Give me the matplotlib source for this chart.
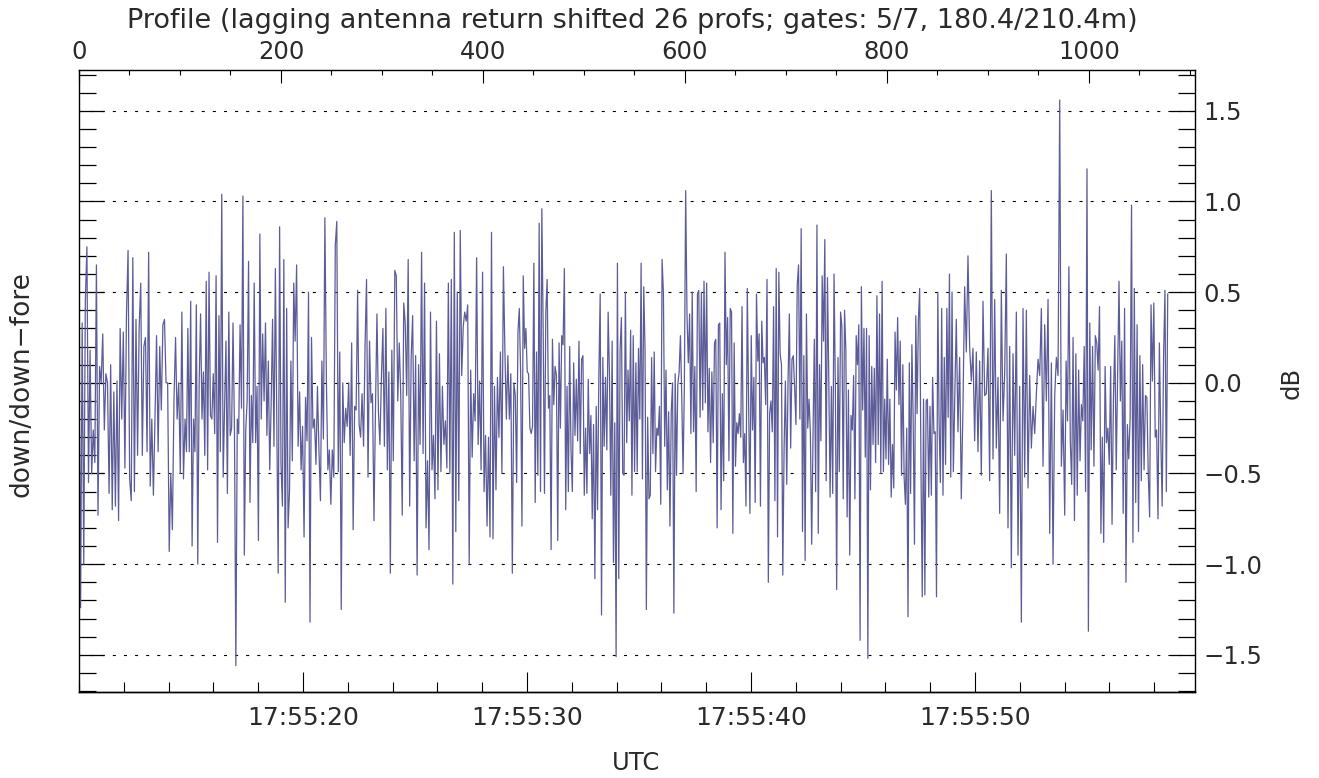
import numpy as np
import matplotlib
matplotlib.use("Agg")
import matplotlib.pyplot as plt
from matplotlib.ticker import MultipleLocator, FixedLocator, FuncFormatter

plt.rcParams['font.family'] = ['DejaVu Sans']
plt.rcParams['lines.scale_dashes'] = False
TXT = '#2a2a2a'
FS = 17.5

# down/down-fore ratio (dB), read in ten consecutive profile blocks
seg0 = [0.18, -1.24, 0.33, -1.0, 0.45, 0.75, -0.55, 0.18, -0.5, -0.26, -0.44, 0.65, -0.73, 0.09, 0.0,
        0.27, -0.26, 0.05, 0.0, -0.61, 0.1, -0.7, -0.05, -0.68, 0.01, -0.76, 0.3, -0.2, 0.28, -0.47,
        0.38, 0.73, -0.53, -0.65, 0.69, -0.6, 0.35, -0.4, 0.3, 0.55, -0.4, 0.2, 0.25, -0.38, 0.72,
        -0.57, -0.2, -0.62, -0.2, 0.26, -0.38, 0.2, -0.15, 0.32, 0.35, 0.0, 0.0, -0.93, -0.5, -0.81,
        -0.1, 0.25, -0.2, 0.0, -0.5, 0.39, -0.53]
seg1 = [-0.2, -0.38, 0.3, -0.38, 0.45, -0.9, -0.2, -0.38, 0.43, -1.0, 0.0, 0.38, -0.2, 0.06, -0.4,
        0.56, -0.48, 0.61, -0.18, -0.2, 0.05, -0.28, 0.59, -0.88, 0.37, -0.38, 1.04, -0.52, -0.15,
        0.23, -0.61, 0.39, -0.29, -0.25, 0.33, -0.25, -1.56, -0.2, -0.28, 0.32, -0.14, 1.03, -0.95,
        -0.26, -0.1, 0.67, -0.66, -0.07, -0.33, 0.55, -0.33, -0.02, -0.87, 0.82, -0.2, 0.27, -0.1,
        0.33, -0.29, 0.12, -0.48, -0.12, 0.35, -0.35, 0.63, -0.2, -1.05, 0.86, -0.45, -0.68, 0.68,
        -1.21, 0.41, -0.8, -0.6, 0.12, -0.43, 0.55]
seg2 = [0.23, 0.65, -0.35, -0.05, -0.48, -0.24, -0.85, -0.08, -0.32, 0.5, -1.32, 0.25, -0.25, -0.2,
        -0.45, -0.02, -0.37, -0.65, 0.12, -0.31, 0.91, 0.02, -0.48, -0.37, -0.67, -0.37, -0.52, 0.76,
        0.89, -0.49, 0.17, -1.25, 0.0, -0.33, -0.14, -0.24, 0.0, -0.4, 0.22, -0.81, -0.13, -0.15, 0.51,
        -0.23, -0.3, -0.06, -0.35, 0.2, 0.57, -0.52, 0.23, -0.11, -0.06, -0.76, -0.15, 0.38, -0.16,
        -0.34, 0.03, 0.3, -0.35, 0.41, -0.48, 0.06, -1.05, 0.18, -0.43, 0.62, 0.59, -0.1, 0.22, -0.07,
        -0.73, 0.44]
seg3 = [0.33, -0.07, 0.68, -0.68, 0.14, 0.37, -0.43, 0.15, -1.06, 0.1, -0.34, 0.72, -0.39, 0.55, -0.8,
        -0.43, -0.92, 0.39, -0.48, -0.29, -0.64, 0.34, -0.59, 0.16, -0.49, -0.02, -0.34, -0.21, -0.47,
        0.55, -0.5, 0.57, -1.11, 0.83, -0.82, 0.5, -0.65, 0.84, 0.04, 0.31, 0.39, 0.34, 0.43, -1.0,
        0.07, -0.41, -0.06, -0.21, 0.69, -0.34, 0.01, -0.48, 0.61, -0.6, -0.29, -0.79, -0.3, -0.85,
        0.83, -0.86, -0.02, -0.59, 0.03, -0.3, 0.17, -0.5, 0.64, 0.18, -0.2, 0.15, -0.2, 0.05, -1.05,
        0.0]
seg4 = [-0.07, -0.55, 0.28, 0.41, 0.06, -0.79, 0.59, 0.19, 0.3, 0.06, 0.05, -0.25, -0.28, -0.24, 0.66,
        -0.66, 0.17, -0.51, 0.88, -0.6, 0.96, 0.3, -0.61, 0.39, 0.57, -0.14, -0.07, -0.92, 0.24, -0.12,
        0.09, 0.04, -0.87, 0.22, -0.25, 0.26, 0.21, 0.63, -0.7, -0.02, -0.6, 0.2, -0.37, -0.6, 0.11,
        -0.29, 0.02, -0.32, 0.23, -0.39, 0.13, 0.15, -0.62, -0.25, -0.61, 0.02, -0.39, -0.18, -0.75,
        -0.23, -1.08, -0.13, -0.7, 0.04, 0.49, -1.28, 0.14, -0.35, 0.03, -0.37, 0.39, 0.04, -0.62, 0.23,
        -0.99, -0.22, -1.51, 0.66, -1.08, 0.18, 0.36, -0.5, -0.51]
seg5 = [0.5, -0.33, 0.07, -0.21, 0.29, -0.62, 0.26, -0.49, 0.11, -0.49, 0.19, -0.2, 0.66, -0.53, 0.53,
        0.18, -1.25, -0.19, -0.64, -0.62, 0.14, -0.39, 0.17, -0.49, -0.25, -0.29, -0.13, -0.67, 0.68,
        0.5, -0.35, 0.07, -0.59, -0.16, -0.79, -0.16, 0.0, -1.27, 0.05, -0.51, -0.01, 0.06, 0.26, -0.07,
        -0.5, -0.02, 1.06, 0.38, 0.11, 0.38, -0.28, 0.5, -0.27, 0.09, -0.6, 0.49, 0.51, -0.19, 0.5,
        -0.15, 0.56, -0.11, 0.55, -0.27, 0.08, -0.44, 0.06, -0.33, 0.22, 0.24, -0.8, 0.32, 0.33, -0.7,
        -0.06, -0.54, 0.72, 0.1, 0.36, -0.43, 0.41, 0.39, -0.83, 0.22]
seg6 = [-0.46, -0.22, -0.28, -0.17, -0.3, 0.42, -0.44, -0.28, -0.68, 0.52, -0.11, -0.72, 0.26, -0.26,
        0.03, -0.66, 0.49, 0.12, 0.27, -0.68, 0.34, 0.11, 0.14, -0.12, 0.57, -1.1, -0.17, -0.1, -0.27,
        0.42, -0.65, 0.63, -0.85, 0.61, 0.16, 0.1, -1.06, -0.36, 0.01, -0.56, 0.01, 0.38, -0.36, 0.13,
        0.15, -0.02, -0.23, 0.54, 0.65, -0.2, 0.85, -0.82, 0.15, -0.98, 0.38, -0.25, -0.09, -0.28,
        -0.89, -0.29, 0.24, -0.6, 0.87, -0.83, 0.1, -0.32, 0.59, 0.23, 0.79, -0.54, 0.58, 0.02, -0.63,
        -0.02, -0.61, 0.6, -0.02, -1.14, 0.14, -0.49, 0.39, 0.31, -0.64]
seg7 = [0.4, 0.18, -0.74, -0.04, -0.95, -0.18, -0.26, 0.04, -0.64, 0.26, 0.1, 0.32, -1.42, 0.53, -0.15,
        0.3, -0.41, 0.3, -1.52, 0.26, -0.59, 0.09, -0.34, 0.08, -0.44, 0.48, -0.34, 0.38, -0.5, 0.56,
        -0.49, -0.09, -0.42, 0.13, -0.45, -0.09, -0.63, -0.34, -0.58, 0.28, -0.04, 0.36, -0.12, 0.23,
        -0.51, 0.1, -0.52, -0.67, -0.25, -1.29, 0.11, -0.61, 0.21, -0.21, -0.89, 0.37, -0.17, 0.34,
        0.52, -0.46, -1.18, -0.09, -1.17, -0.1, -0.09, -0.63, -0.13, -0.62, 0.03, -0.28, -0.27, -1.18,
        0.5, -0.22, -0.55, 0.41, -0.62, 0.14, -0.45, 0.41, -0.19, 0.6, -0.52, 0.5, -0.49]
seg8 = [-0.12, 0.35, -0.27, 0.14, -0.64, -0.13, 0.53, 0.17, 0.7, 0.2, 0.01, 0.19, -0.32, 0.17, -0.38,
        0.12, -0.51, 0.45, -0.07, -0.06, 0.19, -0.54, 1.06, -0.42, 0.46, -0.36, 0.03, -0.72, 0.51,
        -0.21, 0.05, 0.71, -0.8, 0.2, -1.02, 0.16, -0.4, 0.39, -0.95, -0.02, -1.32, 0.41, -0.52, 0.4,
        -0.58, 0.04, -0.36, -0.13, -0.28, -0.06, 0.13, 0.04, 0.41, -0.46, 0.32, -0.1, 0.46, -0.83, 0.11,
        -1.0, -0.07, 0.14, 0.04, 1.56, -0.46, -0.15]
seg9 = [-0.73, 0.12, -0.21, 0.64, -0.32, -0.56, 0.25, -0.76, 0.16, -0.62, 0.07, -0.43, -0.12, -0.21,
        0.2, -0.6, 1.18, -1.37, 0.33, -0.37, 0.2, -0.46, 0.26, 0.22, 0.07, 0.42, -0.83, -0.3, -0.88,
        0.09, -0.33, -0.25, -0.45, 0.09, -0.78, -0.09, 0.26, -0.48, 0.06, 0.56, -0.1, 0.23, -0.72, 0.41,
        -1.1, -0.23, -0.42, -0.19, 0.98, -0.88, 0.52, -0.66, 0.32, -0.82, 0.15, -0.54, 0.1, -0.48,
        -0.07, -0.08, -0.5, -0.74, 0.43, 0.01, 0.44, -0.3, -0.26, -0.75, 0.22, -0.29, -0.68, 0.14,
        0.51, -0.6, 0.49]
segments = [seg0, seg1, seg2, seg3, seg4, seg5, seg6, seg7, seg8, seg9]

# profile number at the start of each block (last entry = final profile)
block_start = [0, 105, 214, 323, 432, 541, 650, 758, 867, 976, 1078]

n_prof = 1105           # profiles across the plot
t0, t1 = 10.0, 59.82    # seconds after 17:55:00 at left / right edge
gridlevels = [-1.5, -1.0, -0.5, 0.0, 0.5, 1.0, 1.5]
time_ticks = [20, 30, 40, 50]

prof, ratio = [], []
for k, seg in enumerate(segments):
    last = k == len(segments) - 1
    p = np.linspace(block_start[k], block_start[k + 1], len(seg), endpoint=last)
    prof.extend(p)
    ratio.extend(seg)
prof = np.array(prof)
ratio = np.array(ratio)

fig = plt.figure(figsize=(13.19, 7.78), dpi=100)
ax = fig.add_axes([79 / 1319, 86 / 778, 1116 / 1319, 622 / 778])

for g in gridlevels:
    ax.axhline(g, color='black', lw=0.8, linestyle=(0, (2.2, 5.8)), zorder=1)
ax.plot(prof, ratio, color='#5c5c98', lw=0.9, zorder=2)

ax.set_xlim(0, n_prof)
ax.set_ylim(-1.705, 1.725)

# profile axis on top
ax.xaxis.set_ticks_position('top')
ax.xaxis.set_major_locator(MultipleLocator(200))
ax.xaxis.set_minor_locator(MultipleLocator(50))
ax.tick_params(axis='x', which='major', direction='in', length=9.5, width=0.8, pad=4,
               labelsize=FS, labelcolor=TXT)
ax.tick_params(axis='x', which='minor', direction='in', length=3.8, width=0.8)

# dB on the right, bare ticks on the left
ax.yaxis.set_major_locator(MultipleLocator(0.5))
ax.yaxis.set_minor_locator(MultipleLocator(0.1))
ax.yaxis.set_major_formatter(FuncFormatter(lambda v, pos: f"{v:.1f}".replace('-', '\u2212')))
ax.tick_params(axis='y', which='both', left=True, right=True, labelleft=False, labelright=True,
               direction='in', width=0.9)
ax.tick_params(axis='y', which='major', length=18, pad=6, labelsize=FS, labelcolor=TXT)
ax.tick_params(axis='y', which='minor', length=12.5)
for sp in ax.spines.values():
    sp.set_linewidth(1.0)

# time axis at the bottom
p_per_s = n_prof / (t1 - t0)
sec = ax.secondary_xaxis('bottom', functions=(lambda p: t0 + p / p_per_s,
                                              lambda t: (t - t0) * p_per_s))
sec.xaxis.set_major_locator(FixedLocator(time_ticks))
sec.xaxis.set_minor_locator(MultipleLocator(2))
sec.xaxis.set_major_formatter(FuncFormatter(lambda t, pos: f"17:55:{int(round(t)):02d}"))
sec.tick_params(axis='x', which='major', direction='in', length=14.5, width=0.8, pad=10,
                labelsize=18, labelcolor=TXT)
sec.tick_params(axis='x', which='minor', direction='in', length=7.2, width=0.8)
sec.spines['bottom'].set_linewidth(1.0)

fig.text(632 / 1319, 1 - 21 / 778,
         "Profile (lagging antenna return shifted 26 profs; gates: 5/7, 180.4/210.4m)",
         ha='center', va='center', fontsize=19.5, color=TXT)
fig.text(636 / 1319, 1 - 763 / 778, "UTC", ha='center', va='center', fontsize=FS, color=TXT)
fig.text(22 / 1319, 1 - 384 / 778, "down/down\u2212fore", ha='center', va='center',
         rotation=90, fontsize=19, color=TXT)
fig.text(1292 / 1319, 1 - 383 / 778, "dB", ha='center', va='center', rotation=90,
         fontsize=FS, color=TXT)

fig.savefig("out.png", dpi=100)
